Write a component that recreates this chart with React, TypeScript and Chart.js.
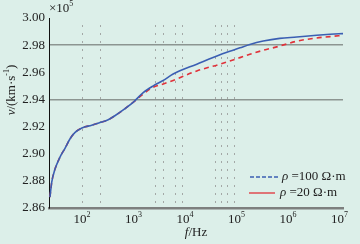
import React, { useEffect, useRef } from "react";
import { Chart, registerables } from "chart.js";
Chart.register(...registerables);

const frequencies = [24, 26, 30, 37, 47, 59, 73, 100, 155, 224, 324, 437, 676, 1000, 1550, 2430, 3800, 5900, 17000, 48000, 117000, 182000, 331000, 692000, 1480000, 3600000, 6600000, 11700000];
const velocity100 = [2.868, 2.879, 2.8885, 2.897, 2.904, 2.911, 2.9155, 2.919, 2.921, 2.923, 2.925, 2.928, 2.933, 2.938, 2.945, 2.95, 2.954, 2.9587, 2.966, 2.973, 2.978, 2.9805, 2.983, 2.985, 2.986, 2.9873, 2.988, 2.9885];
const velocity20 = [2.868, 2.879, 2.8885, 2.897, 2.904, 2.911, 2.9155, 2.919, 2.921, 2.923, 2.925, 2.928, 2.933, 2.938, 2.944, 2.949, 2.9514, 2.954, 2.961, 2.966, 2.9708, 2.9733, 2.9762, 2.9793, 2.9829, 2.9853, 2.9863, 2.9873];
const yTicks = [2.86, 2.88, 2.9, 2.92, 2.94, 2.96, 2.98, 3.0];
const yGridValues = [2.94, 2.98];
const xTickExponents = [2, 3, 4, 5, 6, 7];
const dottedFrequencies = [100, 220, 2600, 3800, 6500, 8900, 38000, 51000, 66000, 88000];
const seriesLabels = ["100 Ω·m", "20 Ω·m"];

const SERIF = "'Liberation Serif', 'DejaVu Serif', serif";
const BG = "#dcefe9";
const BLUE = "#3b5fb3";
const RED = "#e0323a";
const TEXT = "#222";

function drawSeq(ctx: CanvasRenderingContext2D, parts: { t: string; f: string; dy?: number }[], x: number, y: number) {
  let cx = x;
  for (const p of parts) {
    ctx.font = p.f;
    ctx.fillText(p.t, cx, y + (p.dy || 0));
    cx += ctx.measureText(p.t).width;
  }
  return cx;
}
function seqWidth(ctx: CanvasRenderingContext2D, parts: { t: string; f: string }[]) {
  let w = 0;
  for (const p of parts) {
    ctx.font = p.f;
    w += ctx.measureText(p.t).width;
  }
  return w;
}

const decor = {
  id: "decor",
  beforeDatasetsDraw(chart: any) {
    const ctx = chart.ctx as CanvasRenderingContext2D;
    const xs = chart.scales.x;
    const area = chart.chartArea;
    ctx.save();
    ctx.strokeStyle = "#a3a8a6";
    ctx.lineWidth = 1;
    ctx.setLineDash([2, 6]);
    for (const f of dottedFrequencies) {
      const px = Math.round(xs.getPixelForValue(f)) + 0.5;
      ctx.beginPath();
      ctx.moveTo(px, area.top + 7);
      ctx.lineTo(px, area.bottom);
      ctx.stroke();
    }
    ctx.restore();
  },
  afterDraw(chart: any) {
    const ctx = chart.ctx as CanvasRenderingContext2D;
    const xs = chart.scales.x;
    const area = chart.chartArea;
    ctx.save();
    ctx.fillStyle = TEXT;
    ctx.textBaseline = "middle";
    ctx.textAlign = "left";
    const big = `13px ${SERIF}`;
    const small = `8px ${SERIF}`;
    const ital = `italic 13px ${SERIF}`;
    for (const e of xTickExponents) {
      const px = xs.getPixelForValue(Math.pow(10, e));
      const parts = [{ t: "10", f: big }, { t: String(e), f: small, dy: -5 }];
      const w = seqWidth(ctx, parts);
      drawSeq(ctx, parts, px - w / 2, area.bottom + 12);
    }
    {
      const parts = [{ t: "f", f: ital }, { t: "/Hz", f: big }];
      const w = seqWidth(ctx, parts);
      drawSeq(ctx, parts, (area.left + area.right) / 2 - w / 2, 233);
    }
    drawSeq(ctx, [{ t: "×10", f: big }, { t: "5", f: small, dy: -5 }], area.left, 9);
    {
      const parts = [
        { t: "v", f: ital },
        { t: "/(km·s", f: big },
        { t: "-1", f: small, dy: -5 },
        { t: ")", f: big },
      ];
      const w = seqWidth(ctx, parts);
      ctx.save();
      ctx.translate(12, 90);
      ctx.rotate(-Math.PI / 2);
      drawSeq(ctx, parts, -w / 2, 0);
      ctx.restore();
    }
    const rows = [
      { color: BLUE, dash: [4, 2], y: 177, x0: 250, x1: 278, tx: 282, label: seriesLabels[0] },
      { color: RED, dash: [], y: 193, x0: 249, x1: 275, tx: 280, label: seriesLabels[1] },
    ];
    for (const r of rows) {
      ctx.save();
      ctx.strokeStyle = r.color;
      ctx.lineWidth = 1.3;
      ctx.setLineDash(r.dash);
      ctx.beginPath();
      ctx.moveTo(r.x0, r.y);
      ctx.lineTo(r.x1, r.y);
      ctx.stroke();
      ctx.restore();
      ctx.fillStyle = TEXT;
      drawSeq(ctx, [{ t: "ρ", f: ital }, { t: " =" + r.label, f: big }], r.tx, r.y);
    }
    ctx.restore();
  },
};

export default function App() {
  const ref = useRef<HTMLCanvasElement | null>(null);
  useEffect(() => {
    document.body.style.margin = "0";
    document.body.style.background = BG;
    const canvas = ref.current!;
    const chart = new Chart(canvas, {
      type: "line",
      data: {
        datasets: [
          {
            label: seriesLabels[0],
            data: frequencies.map((f, i) => ({ x: f, y: velocity100[i] })),
            borderColor: BLUE,
            borderWidth: 1.6,
            pointRadius: 0,
            cubicInterpolationMode: "monotone",
            fill: false,
          },
          {
            label: seriesLabels[1],
            data: frequencies.map((f, i) => ({ x: f, y: velocity20[i] })),
            borderColor: RED,
            borderWidth: 1.6,
            borderDash: [5, 4],
            pointRadius: 0,
            cubicInterpolationMode: "monotone",
            fill: false,
          },
        ],
      },
      options: {
        animation: false,
        responsive: false,
        devicePixelRatio: 1,
        layout: { padding: { top: 18, right: 17, left: 0, bottom: 0 } },
        plugins: { legend: { display: false }, tooltip: { enabled: false } },
        scales: {
          x: {
            type: "logarithmic",
            min: 23,
            max: 11700000,
            afterBuildTicks: (s: any) => {
              s.ticks = xTickExponents.map((e) => ({ value: Math.pow(10, e) }));
            },
            afterFit: (s: any) => {
              s.height = 36;
            },
            ticks: { display: false },
            grid: { color: "rgba(0,0,0,0)", drawTicks: false },
            border: { display: true, color: "#7d7f7e", width: 2.5 },
          },
          y: {
            type: "linear",
            min: 2.86,
            max: 3.0,
            afterBuildTicks: (s: any) => {
              s.ticks = yTicks.map((v) => ({ value: v }));
            },
            afterFit: (s: any) => {
              s.width = 49;
            },
            ticks: {
              padding: 4,
              color: TEXT,
              font: { family: SERIF, size: 13 },
              callback: (v: any) => Number(v).toFixed(2),
            },
            grid: {
              drawTicks: false,
              lineWidth: 1.6,
              color: (c: any) =>
                c.tick && yGridValues.some((g) => Math.abs(g - c.tick.value) < 1e-6) ? "#8c9591" : "rgba(0,0,0,0)",
            },
            border: { display: true, color: "#111", width: 1 },
          },
        },
      },
      plugins: [decor],
    } as any);
    return () => chart.destroy();
  }, []);
  return (
    <div style={{ position: "fixed", left: 0, top: 0, width: 360, height: 244, background: BG }}>
      <canvas ref={ref} width={360} height={244} />
    </div>
  );
}
